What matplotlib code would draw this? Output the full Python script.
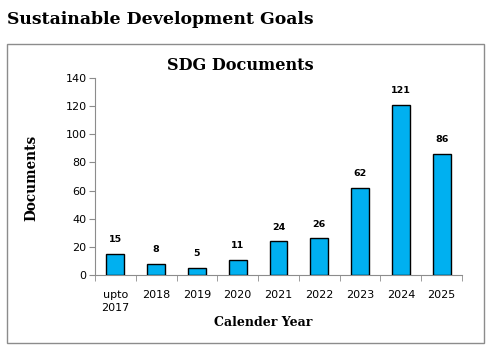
import matplotlib
matplotlib.use("Agg")
import matplotlib.pyplot as plt
from matplotlib.patches import Rectangle

categories = ["upto\n2017", "2018", "2019", "2020", "2021", "2022", "2023", "2024", "2025"]
documents = [15, 8, 5, 11, 24, 26, 62, 121, 86]
yticks = [0, 20, 40, 60, 80, 100, 120, 140]

W, H = 492, 352
fig = plt.figure(figsize=(W/100, H/100), dpi=100)
fig.patch.set_facecolor("white")

serif = ["DejaVu Serif"]
sans = ["DejaVu Sans"]

# outer chart border
fig.add_artist(Rectangle((7/W, 1-343/H), 477/W, 299/H, transform=fig.transFigure,
                         fill=False, edgecolor="#8c8c8c", linewidth=1.0))

fig.text(7/W, 1-19/H, "Sustainable Development Goals", family=serif, fontweight="bold",
         fontsize=12.4, va="center", ha="left", color="black")

ax = fig.add_axes([95/W, 1-275/H, 367/W, 197/H])
x = list(range(len(categories)))
bars = ax.bar(x, documents, width=0.44, color="#00B0F0", edgecolor="black", linewidth=1.0, zorder=3)
ax.set_xlim(-0.5, len(categories)-0.5)
ax.set_ylim(0, 140)
ax.set_yticks(yticks)
ax.set_yticklabels([str(v) for v in yticks], family=sans, fontsize=8)
ax.set_xticks(x)
ax.set_xticklabels(categories, family=sans, fontsize=8, linespacing=1.3)
ax.tick_params(axis="x", length=0, pad=11)
ax.tick_params(axis="y", length=4, color="#8c8c8c", direction="out", pad=2)
ax.set_xticks([i + 0.5 for i in range(-1, len(categories))], minor=True)
ax.tick_params(axis="x", which="minor", length=4, color="#8c8c8c", direction="out")
for s in ["top", "right"]:
    ax.spines[s].set_visible(False)
for s in ["left", "bottom"]:
    ax.spines[s].set_color("#8c8c8c")

for xi, v in zip(x, documents):
    ax.annotate(str(v), (xi, v), xytext=(0, 7), textcoords="offset points",
                ha="center", va="bottom", family=sans, fontweight="bold", fontsize=6.8)

fig.text(240/W, 1-66/H, "SDG Documents", family=serif, fontweight="bold",
         fontsize=11.6, ha="center", va="center")
fig.text(263/W, 1-322/H, "Calender Year", family=serif, fontweight="bold",
         fontsize=9, ha="center", va="center")
fig.text(31/W, 1-178/H, "Documents", family=serif, fontweight="bold",
         fontsize=9.8, ha="center", va="center", rotation=90)

fig.savefig("out.png", dpi=100, facecolor="white")
